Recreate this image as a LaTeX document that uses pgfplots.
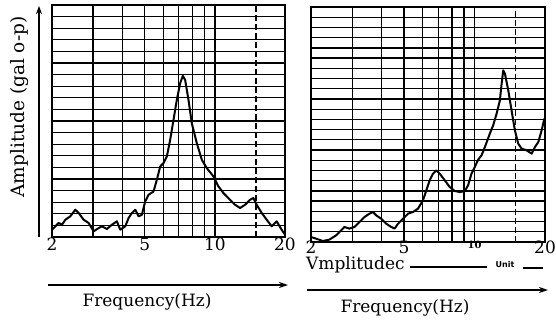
\documentclass[border=0pt]{standalone}
\usepackage{fontspec}
\setmainfont{DejaVu Serif}
\newfontfamily\unitfont{DejaVu Sans}
\usepackage{pgfplots}
\pgfplotsset{compat=1.18}
\usetikzlibrary{arrows.meta}

\begin{document}
\begin{tikzpicture}
\useasboundingbox (0pt,0pt) rectangle (556pt,322pt);

% ---------- left panel ----------
\begin{axis}[at={(52pt,85pt)}, anchor=south west,
  xmode=log, xmin=2, xmax=20, ymin=0, ymax=20,
  scale only axis, width=233pt, height=232pt,
  xtick={2,5,10,20}, xticklabels={2,5,10,20},
  minor xtick={3,4,6,7,8,9},
  ytick={1,...,19}, yticklabels={},
  extra x ticks={15}, extra x tick labels={},
  extra x tick style={major grid style={black,line width=1.3pt,dash pattern=on 6pt off 3pt}},
  xmajorgrids, xminorgrids, ymajorgrids,
  major grid style={black,line width=1.3pt},
  minor grid style={black,line width=1.3pt},
  major tick length=0pt, minor tick length=0pt,
  axis line style={line width=2pt},
  tick label style={font=\fontsize{17}{17}\selectfont},
  xticklabel style={inner sep=1pt},
  /pgf/number format/assume math mode=true]
\addplot[black, line width=2pt, line join=round, no marks] coordinates {
(2.000,0.63) (2.067,0.92) (2.136,1.21) (2.208,1.06) (2.282,1.49) (2.396,1.78)
(2.518,2.35) (2.602,2.07) (2.734,1.49) (2.872,1.21) (3.018,0.49) (3.170,0.77)
(3.276,0.92) (3.441,0.69) (3.616,1.06) (3.798,1.35) (3.926,0.63) (4.125,0.92)
(4.263,1.64) (4.406,2.07) (4.553,2.35) (4.705,1.78) (4.863,1.92) (5.024,3.07)
(5.192,3.64) (5.457,3.93) (5.637,4.94) (5.826,6.08) (6.020,6.37) (6.222,6.94)
(6.430,8.38) (6.645,10.10) (6.867,11.82) (7.096,13.26) (7.286,13.89) (7.456,13.54)
(7.706,11.82) (7.962,9.81) (8.365,8.09) (8.790,6.66) (9.233,5.94) (9.862,5.22)
(10.36,4.36) (10.88,3.79) (11.62,3.21) (12.21,2.78) (12.83,2.50) (13.48,2.78)
(14.16,3.21) (14.63,3.36) (15.12,2.78) (15.89,2.07) (16.69,1.49) (17.54,0.92)
(18.42,1.35) (19.35,0.63) (20.00,0.20)
};
\end{axis}

% ---------- right panel ----------
\begin{axis}[at={(311pt,80pt)}, anchor=south west,
  xmode=log, xmin=2, xmax=20, ymin=0, ymax=23,
  scale only axis, width=234pt, height=235pt,
  xtick={2,5,10,20},
  xticklabels={2,5,{\bfseries\fontsize{10}{10}\selectfont 10},20},
  minor xtick={3,4,6,7,8,9},
  ytick={1,...,22}, yticklabels={},
  extra x ticks={15}, extra x tick labels={},
  extra x tick style={major grid style={black,line width=1.3pt,dash pattern=on 6pt off 3pt}},
  xmajorgrids, xminorgrids, ymajorgrids,
  major grid style={black,line width=1.3pt},
  minor grid style={black,line width=1.3pt},
  major tick length=0pt, minor tick length=0pt,
  axis line style={line width=2pt},
  tick label style={font=\fontsize{17}{17}\selectfont},
  xticklabel style={inner sep=0pt, yshift=1pt},
  /pgf/number format/assume math mode=true]
\addplot[black, line width=2pt, line join=round, no marks] coordinates {
(2.000,0.49) (2.101,0.33) (2.244,0.10) (2.396,0.23) (2.560,0.65) (2.690,1.14)
(2.778,1.47) (2.918,1.31) (3.066,1.47) (3.222,1.96) (3.385,2.45) (3.557,2.77)
(3.676,2.94) (3.798,2.61) (3.991,2.28) (4.193,1.79) (4.406,1.47) (4.553,1.31)
(4.705,1.79) (4.944,2.28) (5.192,2.77) (5.457,2.94) (5.731,3.26) (6.020,4.08)
(6.222,5.06) (6.430,6.04) (6.645,6.69) (6.867,7.01) (7.096,6.69) (7.456,6.04)
(7.834,5.38) (8.230,4.99) (8.646,4.89) (9.084,4.99) (9.384,5.55) (9.700,6.69)
(10.02,7.34) (10.36,8.06) (10.71,8.48) (11.07,9.30) (11.62,10.60) (12.01,11.42)
(12.42,12.56) (12.83,13.87) (13.05,15.50) (13.26,16.80) (13.48,16.48) (13.93,14.85)
(14.39,12.89) (14.87,10.93) (15.37,9.62) (15.89,9.14) (16.69,8.97) (17.54,8.65)
(18.12,9.30) (18.73,9.79) (19.35,10.93) (19.87,12.07)
};
\end{axis}

% ---------- annotations ----------
\draw[line width=1.5pt,-{Stealth[length=8pt,width=6pt]}] (39pt,85pt) -- (39pt,316pt);
\node[rotate=90, font=\fontsize{18.5}{18.5}\selectfont] at (20pt,215pt) {Amplitude (gal o-p)};
\draw[line width=1.5pt,-{Stealth[length=9pt,width=6pt]}] (48pt,37pt) -- (288pt,37pt);
\node[font=\fontsize{17}{17}\selectfont] at (147pt,20pt) {Frequency(Hz)};

\node[anchor=west, inner sep=0pt, font=\fontsize{17}{17}\selectfont] at (306pt,57pt) {Vmplitudec};
\draw[line width=1.2pt] (410pt,55pt) -- (487pt,55pt);
\node[inner sep=0pt, font=\unitfont\bfseries\fontsize{8}{8}\selectfont] at (505pt,57pt) {Unit};
\draw[line width=1.2pt] (523pt,54pt) -- (543pt,54pt);
\draw[line width=1.5pt,-{Stealth[length=9pt,width=6pt]}] (307pt,32pt) -- (548pt,32pt);
\node[font=\fontsize{17}{17}\selectfont] at (405pt,14pt) {Frequency(Hz)};
\end{tikzpicture}
\end{document}
